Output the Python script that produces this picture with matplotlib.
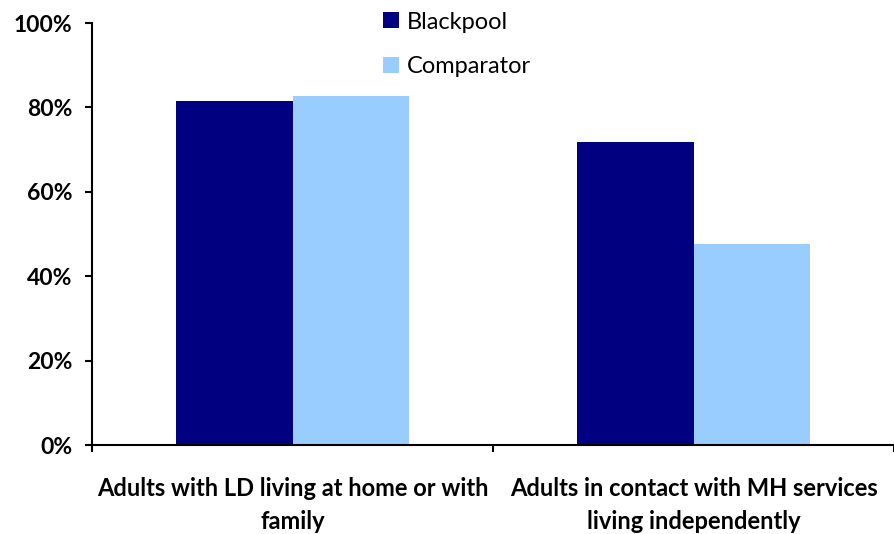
import matplotlib.pyplot as plt
import numpy as np
from matplotlib.ticker import PercentFormatter, FixedLocator

categories = ["Adults with LD living at home or with\nfamily",
              "Adults in contact with MH services\nliving independently"]
blackpool = [81.5, 71.8]
comparator = [82.7, 47.6]
series_names = ["Blackpool", "Comparator"]

plt.rcParams["font.family"] = ["Lato", "DejaVu Sans"]

fig = plt.figure(figsize=(8.94, 5.34), dpi=100)
ax = fig.add_axes([92 / 894, 89 / 534, 802 / 894, 422 / 534])

x = np.arange(len(categories))
w = 0.29
ax.bar(x - w / 2, blackpool, w, color="#000080", label=series_names[0])
ax.bar(x + w / 2, comparator, w, color="#99CCFF", label=series_names[1])

ax.set_xlim(-0.5, len(categories) - 0.5)
ax.set_ylim(0, 100)
ax.yaxis.set_major_locator(FixedLocator(np.arange(0, 101, 20)))
ax.yaxis.set_major_formatter(PercentFormatter(decimals=0))

# category boundaries get the tick marks, labels sit on minor ticks at centres
ax.xaxis.set_major_locator(FixedLocator(np.arange(-0.5, len(categories) + 0.5, 1)))
ax.set_xticklabels([])
ax.set_xticks(x, minor=True)
ax.set_xticklabels(categories, minor=True, fontsize=17, fontweight="bold",
                   linespacing=1.55, va="top")
ax.tick_params(axis="x", which="minor", length=0, pad=23)
ax.tick_params(axis="x", which="major", direction="out", length=5, width=1.5)
ax.tick_params(axis="y", direction="out", length=5, width=1.5, labelsize=16.5, pad=9)
for lbl in ax.get_yticklabels():
    lbl.set_fontweight("bold")

for side in ("top", "right"):
    ax.spines[side].set_visible(False)
for side in ("left", "bottom"):
    ax.spines[side].set_linewidth(1.5)

fig.legend(loc="upper left", bbox_to_anchor=(362 / 894, 1.018), frameon=False,
           fontsize=17, handlelength=0.68, handleheight=0.68, labelspacing=1.0,
           handletextpad=0.34)

fig.savefig("out.png", dpi=100)
